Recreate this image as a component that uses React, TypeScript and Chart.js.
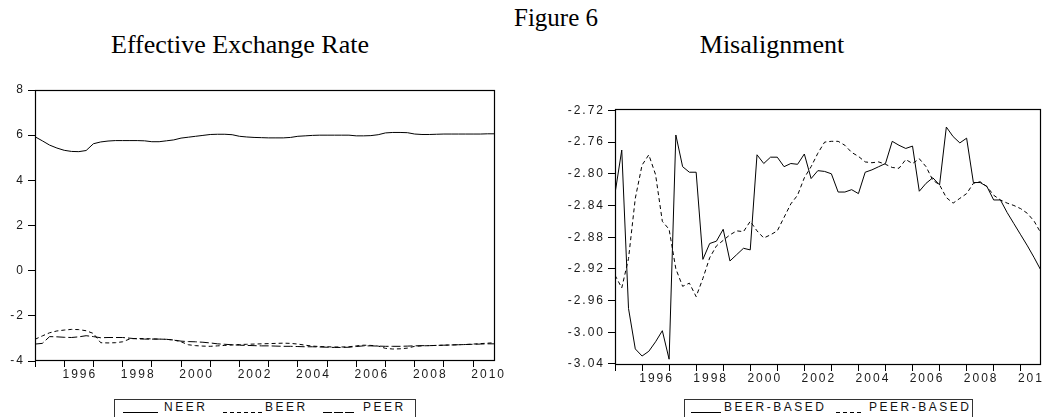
import React, { useEffect, useRef } from "react";
import { Chart, registerables } from "chart.js";

Chart.register(...registerables);

// ---------- data (quarterly, 1995Q1 .. 2010Q4) ----------
const START_YEAR = 1995;
const END_YEAR = 2010.75;
const YEAR_TICKS = [1995, 1996, 1997, 1998, 1999, 2000, 2001, 2002, 2003, 2004, 2005, 2006, 2007, 2008, 2009, 2010];
const LABELED_YEARS = [1996, 1998, 2000, 2002, 2004, 2006, 2008, 2010];

const NEER = [
  5.93, 5.75, 5.56, 5.43, 5.33, 5.28, 5.27, 5.32, 5.62, 5.70,
  5.74, 5.76, 5.76, 5.76, 5.76, 5.75, 5.71, 5.71, 5.75, 5.79,
  5.87, 5.91, 5.95, 5.99, 6.03, 6.04, 6.04, 6.02, 5.95, 5.92,
  5.90, 5.89, 5.88, 5.88, 5.88, 5.90, 5.95, 5.97, 5.99, 6.00,
  6.00, 6.00, 6.00, 6.00, 5.97, 5.97, 5.98, 6.02, 6.10, 6.12,
  6.12, 6.11, 6.05, 6.03, 6.03, 6.04, 6.05, 6.05, 6.05, 6.05,
  6.05, 6.05, 6.06, 6.06,
];
const BEER = [
  -3.04, -2.89, -2.75, -2.67, -2.63, -2.60, -2.61, -2.66, -2.78, -3.19,
  -3.20, -3.19, -3.15, -3.02, -3.00, -3.01, -3.02, -3.03, -3.04, -3.07,
  -3.15, -3.28, -3.32, -3.34, -3.35, -3.33, -3.31, -3.29, -3.27, -3.26,
  -3.25, -3.24, -3.23, -3.22, -3.21, -3.22, -3.25, -3.30, -3.34, -3.36,
  -3.37, -3.38, -3.38, -3.37, -3.33, -3.30, -3.31, -3.34, -3.44, -3.47,
  -3.46, -3.43, -3.35, -3.33, -3.32, -3.31, -3.30, -3.29, -3.28, -3.27,
  -3.25, -3.23, -3.21, -3.19,
];
const PEER = [
  -3.25, -3.22, -2.92, -2.93, -2.95, -2.96, -2.93, -2.88, -2.92, -2.97,
  -2.96, -2.96, -2.96, -2.99, -3.02, -3.03, -3.03, -3.03, -3.04, -3.07,
  -3.12, -3.14, -3.15, -3.17, -3.20, -3.24, -3.26, -3.28, -3.30, -3.31,
  -3.32, -3.33, -3.33, -3.34, -3.35, -3.35, -3.36, -3.37, -3.37, -3.38,
  -3.39, -3.40, -3.40, -3.39, -3.36, -3.33, -3.33, -3.34, -3.35, -3.35,
  -3.35, -3.34, -3.33, -3.32, -3.32, -3.31, -3.30, -3.29, -3.28, -3.27,
  -3.26, -3.25, -3.24, -3.24,
];
const EER_Y_TICKS = [-4, -2, 0, 2, 4, 6, 8];
const EER_Y_MIN = -4;
const EER_Y_MAX = 8;

const BEER_BASED = [
  -2.825, -2.770, -2.970, -3.021, -3.030, -3.024, -3.012, -2.998, -3.034, -2.751,
  -2.791, -2.798, -2.798, -2.908, -2.888, -2.885, -2.870, -2.910, -2.902, -2.894,
  -2.896, -2.776, -2.787, -2.779, -2.779, -2.791, -2.787, -2.788, -2.775, -2.806,
  -2.796, -2.797, -2.800, -2.823, -2.823, -2.820, -2.825, -2.798, -2.795, -2.791,
  -2.787, -2.759, -2.764, -2.768, -2.765, -2.822, -2.812, -2.805, -2.814, -2.741,
  -2.753, -2.761, -2.755, -2.811, -2.811, -2.816, -2.833, -2.833, -2.849, -2.863,
  -2.877, -2.891, -2.906, -2.922,
];
const PEER_BASED = [
  -2.928, -2.944, -2.907, -2.831, -2.789, -2.776, -2.801, -2.860, -2.870, -2.920,
  -2.942, -2.938, -2.955, -2.932, -2.906, -2.891, -2.884, -2.877, -2.872, -2.873,
  -2.860, -2.872, -2.881, -2.877, -2.872, -2.855, -2.838, -2.827, -2.805, -2.791,
  -2.774, -2.760, -2.759, -2.759, -2.764, -2.773, -2.778, -2.785, -2.786, -2.785,
  -2.788, -2.792, -2.793, -2.782, -2.787, -2.781, -2.791, -2.808, -2.814, -2.830,
  -2.837, -2.831, -2.825, -2.812, -2.810, -2.816, -2.827, -2.833, -2.837, -2.840,
  -2.844, -2.850, -2.860, -2.875,
];
const MIS_Y_TICKS = [-3.04, -3.0, -2.96, -2.92, -2.88, -2.84, -2.8, -2.76, -2.72];
const MIS_Y_MIN = -3.0413;
const MIS_Y_MAX = -2.7182;

// ---------- styling ----------
const SANS = '"Liberation Sans", Arial, Helvetica, sans-serif';
const SERIF = '"Liberation Serif", "Times New Roman", Times, serif';
const TICK_COLOR = "#1a1a1a";

const toPoints = (vals: number[]) => vals.map((v, i) => ({ x: START_YEAR + i / 4, y: v }));

const framePlugin = {
  id: "eviewsFrame",
  beforeDraw(chart: any) {
    try {
      chart.ctx.letterSpacing = "2px";
    } catch (e) {}
  },
  afterDraw(chart: any) {
    const { ctx, chartArea: a } = chart;
    ctx.save();
    ctx.strokeStyle = "#000";
    ctx.lineWidth = 1.2;
    ctx.strokeRect(
      Math.round(a.left) + 0.5,
      Math.round(a.top) + 0.5,
      Math.round(a.right - a.left) - 1,
      Math.round(a.bottom - a.top) - 1
    );
    ctx.restore();
  },
};

interface PanelSpec {
  width: number;
  height: number;
  plotLeft: number;
  plotRight: number;
  plotTop: number;
  plotBottom: number;
  yMin: number;
  yMax: number;
  yTicks: number[];
  yFormat: (v: number) => string;
  datasets: { label: string; data: number[]; dash: number[] }[];
}

function buildConfig(p: PanelSpec): any {
  const plotW = p.plotRight - p.plotLeft;
  const halfYear = plotW / (END_YEAR - START_YEAR) / 2;
  return {
    type: "line",
    data: {
      datasets: p.datasets.map((d) => ({
        label: d.label,
        data: toPoints(d.data),
        borderColor: "#000",
        borderWidth: 1,
        borderDash: d.dash,
        pointRadius: 0,
        tension: 0,
        fill: false,
      })),
    },
    options: {
      animation: false,
      responsive: false,
      events: [],
      layout: {
        padding: { left: 0, right: p.width - p.plotRight, top: p.plotTop, bottom: 0 },
      },
      plugins: { legend: { display: false }, tooltip: { enabled: false }, title: { display: false } },
      scales: {
        x: {
          type: "linear",
          min: START_YEAR,
          max: END_YEAR,
          afterBuildTicks: (s: any) => {
            s.ticks = YEAR_TICKS.map((v) => ({ value: v }));
          },
          afterFit: (s: any) => {
            s.height = p.height - p.plotBottom;
            s.paddingLeft = 0;
            s.paddingRight = 0;
          },
          ticks: {
            autoSkip: false,
            maxRotation: 0,
            minRotation: 0,
            padding: 0,
            labelOffset: halfYear + 1,
            color: TICK_COLOR,
            font: { family: SANS, size: 12 },
            callback: (v: number) => (LABELED_YEARS.includes(v) ? String(v) : ""),
          },
          grid: { drawOnChartArea: false, drawTicks: true, tickLength: 6, color: "#000", lineWidth: 1 },
          border: { display: false },
        },
        y: {
          type: "linear",
          min: p.yMin,
          max: p.yMax,
          afterBuildTicks: (s: any) => {
            s.ticks = p.yTicks.map((v) => ({ value: v }));
          },
          afterFit: (s: any) => {
            s.width = p.plotLeft;
            s.paddingTop = 0;
            s.paddingBottom = 0;
          },
          ticks: {
            autoSkip: false,
            padding: 3,
            color: TICK_COLOR,
            font: { family: SANS, size: 12 },
            callback: (v: number) => p.yFormat(v),
          },
          grid: { drawOnChartArea: false, drawTicks: true, tickLength: 7, color: "#000", lineWidth: 1 },
          border: { display: false },
        },
      },
    },
    plugins: [framePlugin],
  };
}

function Panel({ spec, left, top }: { spec: PanelSpec; left: number; top: number }) {
  const ref = useRef<HTMLCanvasElement>(null);
  useEffect(() => {
    if (!ref.current) return;
    const chart = new Chart(ref.current, buildConfig(spec));
    return () => chart.destroy();
  }, []);
  return (
    <canvas
      ref={ref}
      width={spec.width}
      height={spec.height}
      style={{ position: "absolute", left, top, width: spec.width, height: spec.height, display: "block" }}
    />
  );
}

const LEFT_SPEC: PanelSpec = {
  width: 520,
  height: 310,
  plotLeft: 35,
  plotRight: 495,
  plotTop: 10,
  plotBottom: 281,
  yMin: EER_Y_MIN,
  yMax: EER_Y_MAX,
  yTicks: EER_Y_TICKS,
  yFormat: (v) => String(v),
  datasets: [
    { label: "NEER", data: NEER, dash: [] },
    { label: "BEER", data: BEER, dash: [4, 3] },
    { label: "PEER", data: PEER, dash: [9, 3] },
  ],
};

const RIGHT_SPEC: PanelSpec = {
  width: 524,
  height: 310,
  plotLeft: 95,
  plotRight: 521,
  plotTop: 29,
  plotBottom: 285,
  yMin: MIS_Y_MIN,
  yMax: MIS_Y_MAX,
  yTicks: MIS_Y_TICKS,
  yFormat: (v) => v.toFixed(2),
  datasets: [
    { label: "BEER-BASED", data: BEER_BASED, dash: [] },
    { label: "PEER-BASED", data: PEER_BASED, dash: [4, 3] },
  ],
};

function Sample({ x, w, dash }: { x: number; w: number; dash?: string }) {
  return (
    <svg style={{ position: "absolute", left: x, top: 10, overflow: "visible" }} width={w} height={4}>
      <line x1={0} y1={2.5} x2={w} y2={2.5} stroke="#000" strokeWidth={1} strokeDasharray={dash} />
    </svg>
  );
}

function LegendText({ x, text }: { x: number; text: string }) {
  return (
    <span
      style={{
        position: "absolute",
        left: x,
        top: 1,
        fontFamily: SANS,
        fontSize: 12,
        lineHeight: "12px",
        letterSpacing: "2.5px",
        color: "#111",
        whiteSpace: "nowrap",
      }}
    >
      {text}
    </span>
  );
}

const boxStyle = (left: number, width: number): React.CSSProperties => ({
  position: "absolute",
  left,
  top: 399,
  width,
  height: 30,
  border: "1px solid #333",
  boxSizing: "border-box",
  background: "#fff",
});

const titleStyle = (center: number, top: number, size: number): React.CSSProperties => ({
  position: "absolute",
  left: center - 200,
  top,
  width: 400,
  textAlign: "center",
  fontFamily: SERIF,
  fontSize: size,
  lineHeight: `${size}px`,
  color: "#000",
  whiteSpace: "nowrap",
});

export default function App() {
  return (
    <div
      style={{
        position: "absolute",
        left: 0,
        top: 0,
        width: 1044,
        height: 417,
        overflow: "hidden",
        background: "#fff",
      }}
    >
      <div style={titleStyle(556, 5, 25)}>Figure 6</div>
      <div style={titleStyle(240, 32, 26)}>Effective Exchange Rate</div>
      <div style={titleStyle(772, 32, 26)}>Misalignment</div>

      <Panel spec={LEFT_SPEC} left={0} top={80} />
      <Panel spec={RIGHT_SPEC} left={520} top={80} />

      <div style={boxStyle(114, 302)}>
        <Sample x={8} w={35} />
        <LegendText x={49} text="NEER" />
        <Sample x={108} w={40} dash="4,3" />
        <LegendText x={150} text="BEER" />
        <Sample x={208} w={33} dash="9,2" />
        <LegendText x={248} text="PEER" />
      </div>
      <div style={boxStyle(684, 289)}>
        <Sample x={6} w={30} />
        <LegendText x={39} text="BEER-BASED" />
        <Sample x={151} w={28} dash="4,3" />
        <LegendText x={184} text="PEER-BASED" />
      </div>
    </div>
  );
}
